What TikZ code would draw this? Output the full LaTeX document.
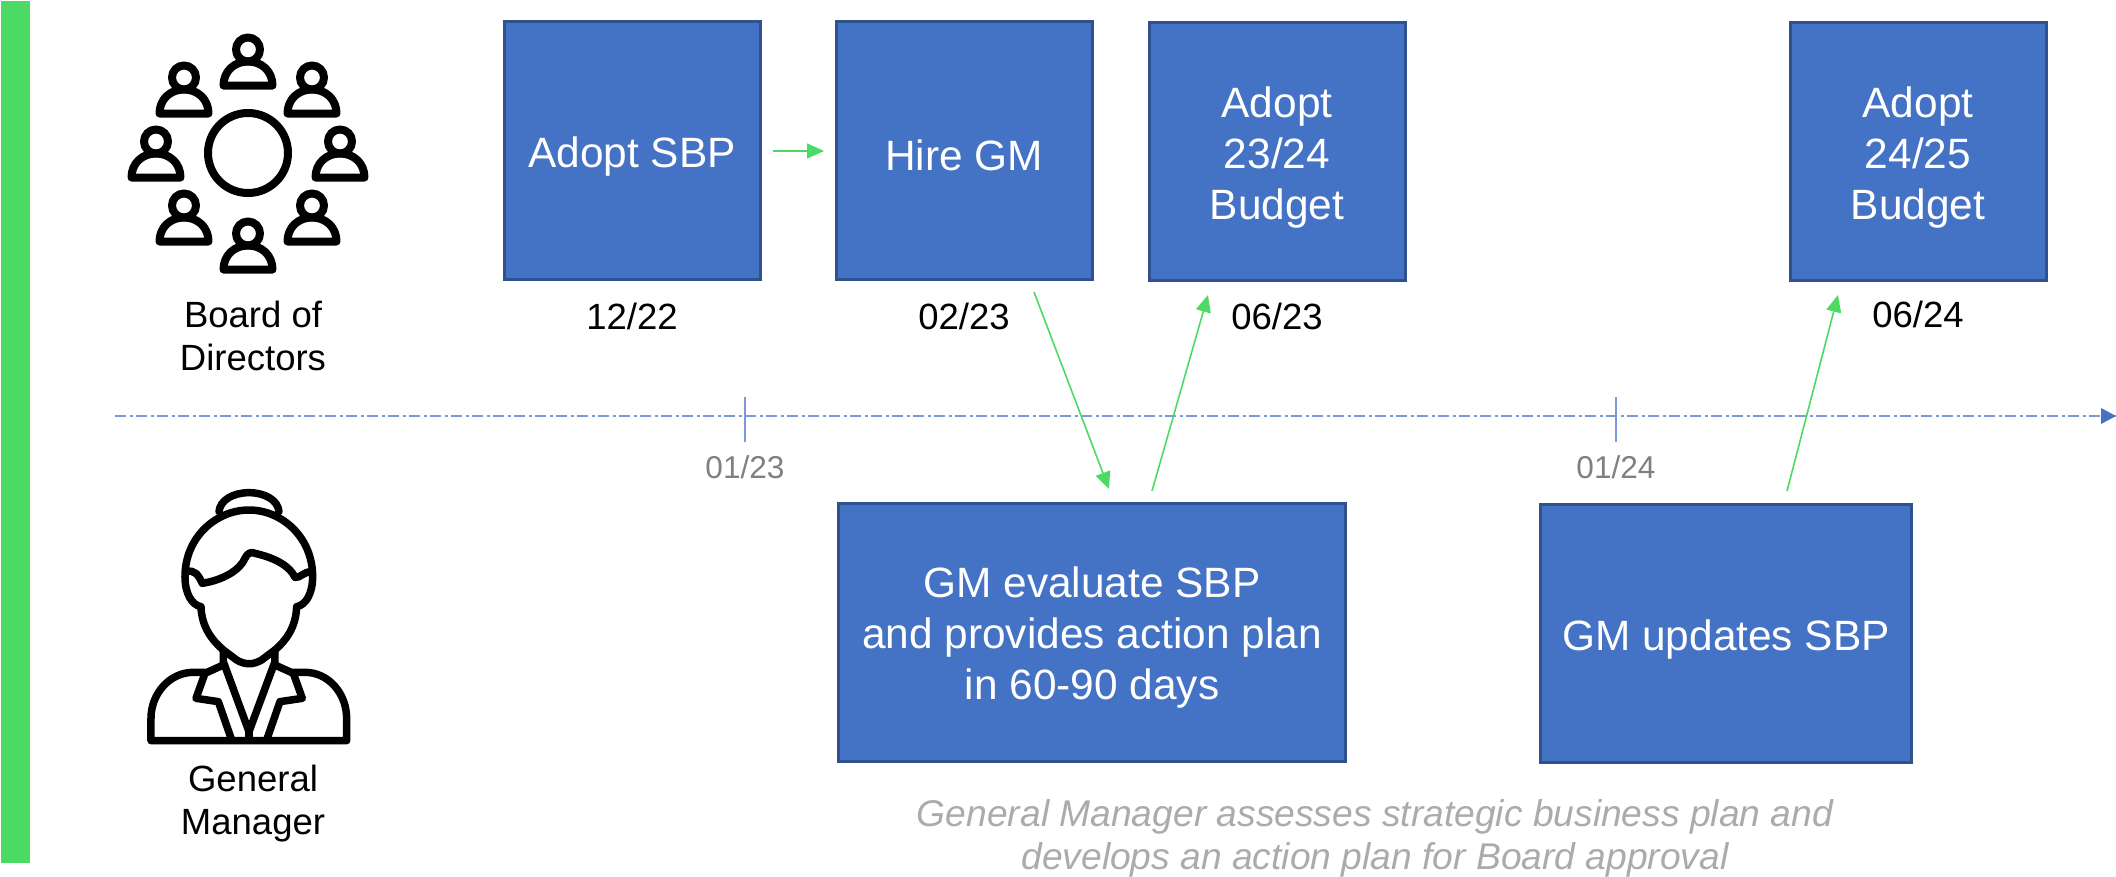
\documentclass[tikz,border=0pt]{standalone}
\usepackage{fontspec}
\setmainfont{Liberation Sans}
\usetikzlibrary{arrows.meta}
\definecolor{boxblue}{HTML}{4472C4}
\definecolor{boxedge}{HTML}{2F528F}
\definecolor{linkgreen}{HTML}{4CD964}
\definecolor{axisblue}{HTML}{7C9ADB}
\tikzset{
  x=1pt,y=-1pt,
  bluebox/.style={draw=boxedge,line width=3pt,fill=boxblue,inner sep=0pt},
  boxtext/.style={text=white,align=center,inner sep=0pt,font=\fontsize{42.4}{51}\selectfont},
  datelabel/.style={font=\fontsize{36.5}{44}\selectfont,inner sep=0pt},
  ticklabel/.style={font=\fontsize{31.6}{38}\selectfont,inner sep=0pt,text=black!50},
  rolelabel/.style={font=\fontsize{36.5}{43}\selectfont,inner sep=0pt,align=center},
  notelabel/.style={font=\itshape\fontsize{37.2}{43}\selectfont,inner sep=0pt,align=center,text=black!33},
  link/.style={draw=linkgreen,line width=1.6pt,-{Triangle[length=17pt,width=15pt]}},
  timeaxis/.style={draw=axisblue,line width=1.6pt,dash pattern=on 11pt off 3.5pt on 3pt off 3.5pt},
  tickmark/.style={draw=axisblue,line width=1.4pt},
  iconline/.style={draw=black,line width=8pt,line join=round,line cap=round},
  womanline/.style={draw=black,line width=7.5pt,line join=round,line cap=round},
}
\newcommand{\seatperson}[2]{%
  \draw[iconline] (#1,#2) circle[radius=12];
  \draw[iconline] (#1-24.5,#2+36) .. controls (#1-24.5,#2+22) and (#1-14,#2+12) .. (#1,#2+12)
     .. controls (#1+14,#2+12) and (#1+24.5,#2+22) .. (#1+24.5,#2+36) -- cycle;
}
\begin{document}
\begin{tikzpicture}
\useasboundingbox (0,0) rectangle (2116,876);
\fill[linkgreen] (1,1) rectangle (30,863);

% board icon
\draw[iconline] (248,153) circle[radius=40];
\seatperson{248}{49.5}
\seatperson{184}{77.5}
\seatperson{312}{77.5}
\seatperson{156}{141.5}
\seatperson{340}{141.5}
\seatperson{184}{205.5}
\seatperson{312}{205.5}
\seatperson{248}{233.5}

% manager icon
\begin{scope}[shift={(90,470)},x=0.3333pt,y=-0.3333pt,womanline]
\draw (387,125) .. controls (390,90) and (430,68) .. (477,68) .. controls (524,68) and (564,90) .. (567,125);
\draw (333,410) .. controls (305,405) and (285,370) .. (285,320) .. controls (285,200) and (380,120) .. (477,120)
  .. controls (574,120) and (668,200) .. (668,320) .. controls (668,370) and (648,405) .. (620,410)
  .. controls (618,470) and (590,510) .. (555,540) -- (515,570) .. controls (490,585) and (465,585) .. (440,570)
  -- (400,540) .. controls (365,510) and (335,470) .. (333,410) -- cycle;
\draw (288,305) .. controls (315,298) and (325,315) .. (337,340) .. controls (400,330) and (450,300) .. (465,265)
  .. controls (472,248) and (485,245) .. (495,250) .. controls (560,265) and (600,290) .. (615,322)
  .. controls (630,325) and (640,305) .. (665,305);
\draw (400,540) -- (400,575) -- (477,785) -- (555,575) -- (555,540);
\draw (400,585) -- (345,610) -- (318,685) -- (385,695) -- (425,810);
\draw (555,585) -- (610,610) -- (637,685) -- (570,695) -- (530,810);
\draw (345,607) -- (310,607) .. controls (240,607) and (183,670) .. (183,745) -- (183,812) -- (770,812) -- (770,745)
  .. controls (770,670) and (715,607) .. (645,607) -- (610,607);
\draw (477,785) -- (477,810);
\end{scope}

% boxes
\node[bluebox,minimum width=256pt,minimum height=258pt,label={[boxtext,yshift=-6pt]center:Adopt SBP}] (sbp) at (632,150.5) {};
\node[bluebox,minimum width=256pt,minimum height=258pt,label={[boxtext,yshift=-5pt]center:Hire GM}] (gm) at (964,150) {};
\node[bluebox,minimum width=256pt,minimum height=258pt,label={[boxtext,yshift=-6.5pt]center:{Adopt\\23/24\\Budget}}] (b23) at (1277,151.5) {};
\node[bluebox,minimum width=256pt,minimum height=258pt,label={[boxtext,yshift=-6.5pt]center:{Adopt\\24/25\\Budget}}] (b24) at (1918,151.5) {};
\node[bluebox,minimum width=507pt,minimum height=258pt,label={[boxtext,yshift=-5pt]center:{GM evaluate SBP\\and provides action plan\\in 60-90 days}}] (eval) at (1092,632.5) {};
\node[bluebox,minimum width=371pt,minimum height=258pt,label={[boxtext,yshift=-6pt]center:GM updates SBP}] (upd) at (1726,633.5) {};

% labels
\node[datelabel] (d1) at (632,316) {12/22};
\node[datelabel] (d2) at (964,316) {02/23};
\node[datelabel] (d3) at (1277,316) {06/23};
\node[datelabel] (d4) at (1918,314) {06/24};
\node[rolelabel] (board) at (253,336) {Board of\\Directors};
\node[rolelabel] (mgr) at (253,804) {General\\Manager};
\node[notelabel] (note) at (1375,838) {General Manager assesses strategic business plan and\\develops an action plan for Board approval};

% timeline
\coordinate (axisstart) at (115,416);
\coordinate (axisend) at (2116,416);
\draw[timeaxis] (axisstart) -- (axisend);
\fill[boxblue] (axisend) -- ++(-15,-8) -- ++(0,16) -- cycle;
\coordinate (t1a) at (745,397); \coordinate (t1b) at (745,442);
\coordinate (t2a) at (1616,397); \coordinate (t2b) at (1616,442);
\draw[tickmark] (t1a) -- (t1b);
\draw[tickmark] (t2a) -- (t2b);
\node[ticklabel] (tl1) at (745,467) {01/23};
\node[ticklabel] (tl2) at (1616,467) {01/24};

% links
\coordinate (a1s) at (773,151); \coordinate (a1e) at (824,151);
\coordinate (a2s) at (1034,292); \coordinate (a2e) at (1109,489);
\coordinate (a3s) at (1152,491); \coordinate (a3e) at (1208,295);
\coordinate (a4s) at (1787,491); \coordinate (a4e) at (1838,295);
\draw[link] (a1s) -- (a1e);
\draw[link] (a2s) -- (a2e);
\draw[link] (a3s) -- (a3e);
\draw[link] (a4s) -- (a4e);
\end{tikzpicture}
\end{document}
